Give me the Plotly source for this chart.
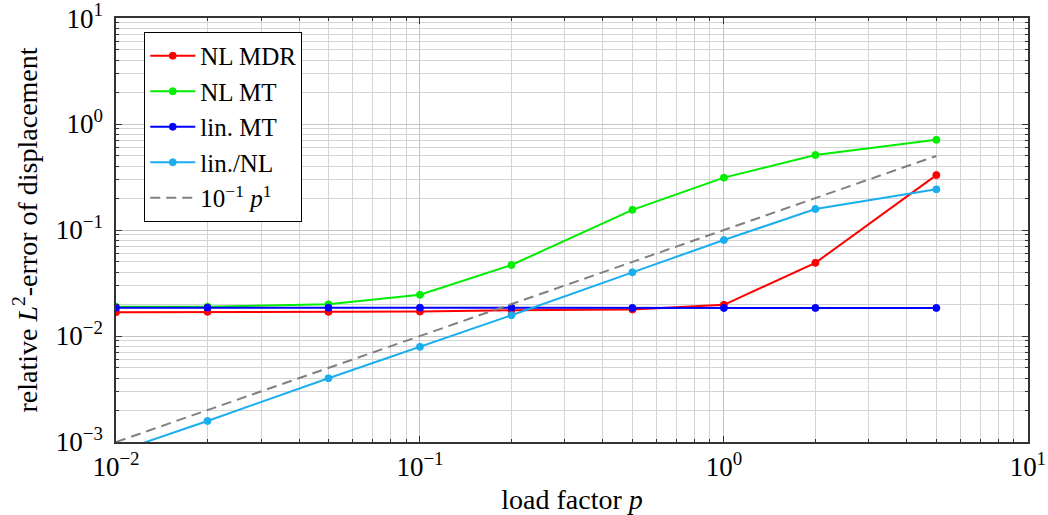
import plotly.graph_objects as go

p = [0.01, 0.02, 0.05, 0.1, 0.2, 0.5, 1, 2, 5]
nl_mdr = [0.0168, 0.0169, 0.0169, 0.0170, 0.0175, 0.0178, 0.0197, 0.049, 0.33]
nl_mt = [0.0189, 0.0189, 0.0199, 0.0245, 0.0468, 0.155, 0.312, 0.51, 0.71]
lin_mt = [0.0185, 0.0185, 0.0185, 0.0185, 0.0185, 0.0184, 0.0184, 0.0184, 0.0184]
lin_nl = [0.0008, 0.00158, 0.0040, 0.0079, 0.0157, 0.0399, 0.0805, 0.158, 0.242]
ref_p = [0.01, 5]
ref_val = [0.001, 0.5]

x_tickvals = [0.01, 0.1, 1, 10]
x_ticktext = ["10<sup>−2</sup>", "10<sup>−1</sup>", "10<sup>0</sup>", "10<sup>1</sup>"]
y_tickvals = [0.001, 0.01, 0.1, 1, 10]
y_ticktext = ["10<sup>−3</sup>", "10<sup>−2</sup>", "10<sup>−1</sup>", "10<sup>0</sup>", "10<sup>1</sup>"]
minor_mult = [2, 3, 4, 5, 6, 7, 8, 9]
x_minor = [m * d for d in x_tickvals[:-1] for m in minor_mult]
y_minor = [m * d for d in y_tickvals[:-1] for m in minor_mult]

FONT = "Liberation Serif"

fig = go.Figure()
series = [
    ("NL MDR", nl_mdr, "#ff0000"),
    ("NL MT", nl_mt, "#00ee00"),
    ("lin. MT", lin_mt, "#0000ff"),
    ("lin./NL", lin_nl, "#1aaeef"),
]
for name, vals, col in series:
    fig.add_trace(go.Scatter(
        x=p, y=vals, name=name, mode="lines+markers",
        line=dict(color=col, width=2),
        marker=dict(symbol="circle", size=7, color=col, line=dict(color=col, width=1)),
    ))
fig.add_trace(go.Scatter(
    x=ref_p, y=ref_val, name="10<sup>−1</sup> <i>p</i><sup>1</sup>", mode="lines",
    line=dict(color="#808080", width=2, dash="10px,6px"),
))

axis_common = dict(
    type="log", showline=True, linecolor="#333", linewidth=1.5, mirror="allticks",
    ticks="inside", ticklen=6, tickcolor="#333",
    showgrid=True, gridcolor="#c4c4c4", gridwidth=1,
    zeroline=False, ticklabeloverflow="allow", automargin=False,
    tickfont=dict(family=FONT, size=27, color="black"),
)
fig.update_xaxes(**axis_common, range=[-2, 1.0005], tickmode="array",
                 tickvals=x_tickvals, ticktext=x_ticktext,
                 minor=dict(tickmode="array", tickvals=x_minor, ticks="inside", ticklen=3,
                            tickcolor="#333", showgrid=True, gridcolor="#d4d4d4", gridwidth=1))
fig.update_yaxes(**axis_common, range=[-3, 1.0005], tickmode="array",
                 tickvals=y_tickvals, ticktext=y_ticktext, ticklabelstandoff=6,
                 minor=dict(tickmode="array", tickvals=y_minor, ticks="inside", ticklen=3,
                            tickcolor="#333", showgrid=True, gridcolor="#d4d4d4", gridwidth=1))
fig.update_xaxes(title_text="load factor <i>p</i>",
                 title_font=dict(family=FONT, size=28, color="black"), title_standoff=10)
fig.update_yaxes(title_text="relative <i>L</i><sup>2</sup>-error of displacement",
                 title_font=dict(family=FONT, size=28, color="black"), title_standoff=10)

fig.update_layout(
    width=1048, height=515,
    margin=dict(l=116, r=20, t=18, b=73),
    paper_bgcolor="white", plot_bgcolor="white",
    font=dict(family=FONT, color="black", size=24),
    legend=dict(x=0.031, y=0.967, xanchor="left", yanchor="top",
                bgcolor="white", bordercolor="black", borderwidth=1,
                itemwidth=45,
                font=dict(family=FONT, size=25, color="black")),
    showlegend=True,
)

fig.write_html("out.html")
